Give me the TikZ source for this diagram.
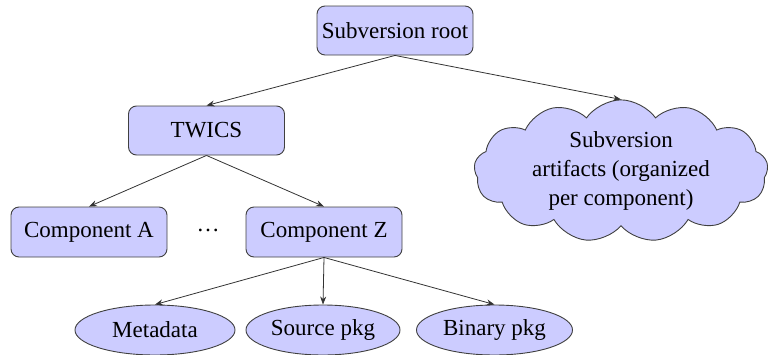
\documentclass[tikz,border=0pt]{standalone}
\usepackage{fontspec}
\setmainfont{Liberation Serif}
\usetikzlibrary{shapes.geometric,shapes.symbols,arrows.meta}
\definecolor{nodefill}{RGB}{204,204,255}
\definecolor{nodeline}{RGB}{64,64,64}
\begin{document}
\begin{tikzpicture}[x=1pt,y=-1pt,
    font=\fontsize{23}{29}\selectfont,
    box/.style={draw=nodeline,fill=nodefill,rounded corners=8pt,line width=0.9pt,
        minimum width=156pt,minimum height=49pt,inner sep=2pt},
    pkg/.style={ellipse,draw=nodeline,fill=nodefill,line width=0.9pt,
        minimum width=156pt,minimum height=50pt,inner sep=1pt},
    link/.style={draw=black!80,line width=0.8pt,-{Stealth[length=8pt,width=6pt]}}]
            \useasboundingbox (0,0) rectangle (769,354);

            \node [box] (root) at (395,30.5) {Subversion root};
            \node [box] (twics) at (206.5,130.5) {TWICS};
            \node [box,minimum height=50pt] (compA) at (89,232) {Component A};
            \node (dots) at (208,230) {\dots};
            \node [box,minimum height=50pt] (compZ) at (324,232) {Component Z};
            \node [cloud,cloud puffs=13,cloud puff arc=110,aspect=2.2,draw=nodeline,
                fill=nodefill,line width=0.9pt,minimum width=294pt,minimum height=130pt,
                inner sep=0pt,align=center] (svn) at (621,171)
                {Subversion\\artifacts (organized\\per component)};

            \node [pkg,minimum width=160pt] (meta) at (155,330) {Metadata};
            \node [pkg,minimum width=154pt] (src) at (323,330) {Source pkg};
            \node [pkg] (bin) at (494.5,330) {Binary pkg};

            % connectors
            \draw [link] (root.south) -- (twics.north);
            \draw [link] (root.south) -- (svn.north);
            \draw [link] (twics.south) -- (compA.north);
            \draw [link] (twics.south) -- (compZ.north);
            \draw [link] (compZ.south) -- (meta.north);
            \draw [link] (compZ.south) -- (src.north);
            \draw [link] (compZ.south) -- (bin.north);
        \end{tikzpicture}
\end{document}
